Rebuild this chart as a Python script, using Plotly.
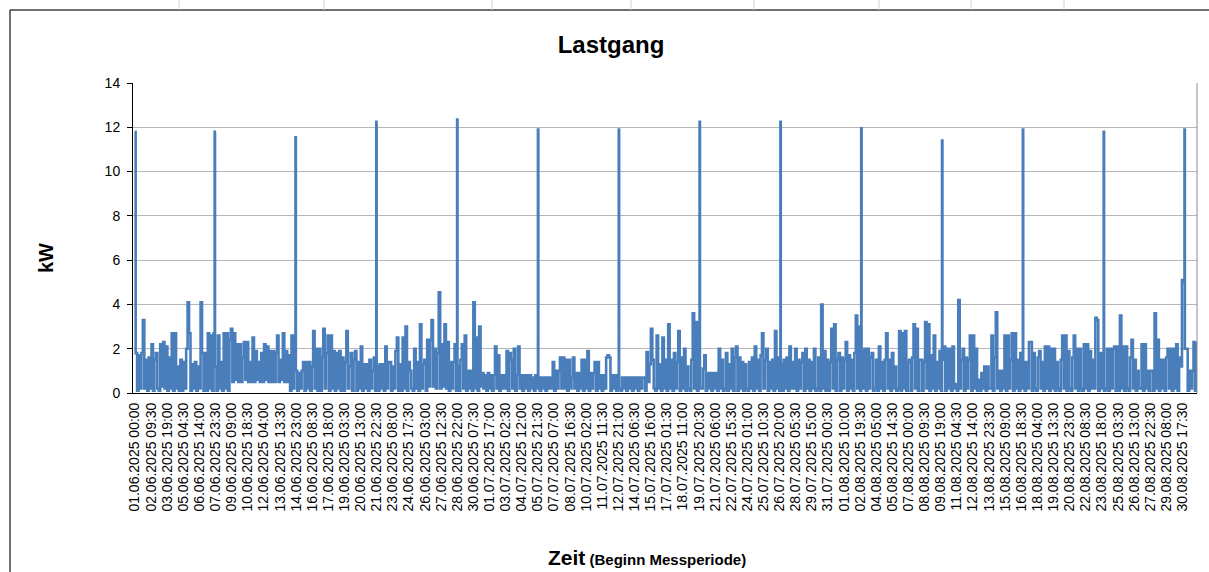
import pandas as pd
import plotly.graph_objects as go

# ---- data (kW), 3-hourly readings per day ----
june_kw = [
    [1.8, 0.1, 1.7, 0.2, 1.8, 3.3, 0.2, 1.5],
    [0.1, 1.6, 0.2, 2.2, 0.1, 1.5, 1.8, 0.2],
    [0.1, 2.2, 0.3, 2.3, 0.2, 2.1, 0.1, 1.6],
    [0.2, 2.7, 0.1, 2.7, 0.2, 1.2, 0.1, 1.5],
    [0.1, 1.4, 0.2, 2.0, 4.1, 2.7, 0.1, 1.3],
    [0.2, 1.4, 0.1, 1.2, 0.2, 4.1, 1.8, 0.1],
    [1.8, 0.1, 2.7, 0.2, 2.6, 0.1, 2.7, 1.2],
    [0.1, 2.6, 0.2, 1.4, 0.1, 2.7, 0.2, 2.7],
    [0.1, 2.4, 2.9, 0.5, 2.7, 0.6, 2.2, 0.5],
    [2.2, 0.5, 1.6, 2.3, 0.6, 2.3, 0.5, 1.4],
    [0.5, 2.5, 0.5, 1.9, 0.6, 1.4, 0.5, 1.8],
    [0.5, 2.2, 0.6, 2.1, 0.5, 1.9, 0.5, 1.9],
    [0.5, 1.8, 2.6, 0.5, 1.5, 0.6, 2.7, 0.5],
    [1.9, 0.5, 1.7, 0.1, 2.6, 0.2, 2.5, 1.0],
    [0.1, 0.9, 0.2, 1.0, 1.4, 0.1, 1.4, 0.2],
    [1.4, 0.1, 1.2, 2.8, 0.2, 2.0, 0.1, 2.0],
    [0.1, 1.6, 2.9, 0.2, 1.8, 2.6, 0.1, 2.6],
    [0.2, 1.9, 0.1, 1.8, 0.2, 1.9, 0.1, 1.6],
    [0.1, 1.4, 2.8, 0.2, 1.2, 1.8, 0.1, 1.5],
    [1.9, 0.1, 1.4, 0.2, 2.1, 0.1, 1.3, 0.2],
    [1.3, 0.1, 1.5, 0.2, 1.0, 1.6, 0.1, 1.2],
    [0.1, 1.3, 0.2, 1.3, 0.1, 2.1, 0.2, 1.4],
    [1.4, 0.1, 1.2, 0.2, 1.9, 2.5, 0.1, 1.3],
    [0.1, 2.5, 0.2, 3.0, 0.1, 1.4, 1.0, 0.2],
    [0.1, 2.0, 0.2, 1.4, 0.1, 3.1, 0.2, 1.3],
    [1.5, 0.1, 2.4, 0.3, 2.4, 3.3, 0.3, 2.0],
    [0.2, 1.8, 4.55, 0.2, 2.2, 0.3, 3.1, 0.2],
    [2.3, 0.1, 1.4, 0.2, 1.4, 2.2, 0.1, 1.2],
    [0.1, 1.5, 2.2, 0.2, 2.6, 0.1, 1.0, 0.2],
    [1.0, 0.1, 4.1, 0.2, 2.5, 0.1, 3.0, 0.3],
]
july_kw = [
    [0.9, 0.2, 0.8, 0.1, 0.9, 0.2, 0.8, 0.1],
    [0.8, 2.1, 0.2, 1.7, 0.1, 0.8, 0.2, 0.8],
    [0.2, 1.9, 0.1, 1.8, 1.5, 0.2, 2.0, 0.1],
    [0.8, 2.1, 0.2, 0.8, 0.1, 0.8, 0.2, 0.8],
    [0.1, 0.8, 0.2, 0.7, 0.1, 0.8, 0.2, 0.7],
    [0.1, 0.7, 0.2, 0.7, 0.1, 0.7, 0.2, 0.7],
    [0.2, 1.4, 0.1, 1.0, 0.2, 1.0, 1.6, 0.2],
    [1.6, 0.2, 1.5, 0.1, 1.5, 0.2, 0.7, 1.6],
    [0.2, 0.9, 0.1, 0.9, 0.2, 1.5, 0.1, 1.5],
    [0.2, 1.9, 0.1, 0.9, 0.2, 0.9, 1.4, 0.1],
    [1.4, 0.2, 0.8, 0.1, 0.8, 0.2, 1.6, 1.7],
    [1.6, 0.1, 0.8, 0.2, 0.8, 0.1, 0.8, 0.2],
    [0.1, 0.7, 0.2, 0.7, 0.1, 0.7, 0.2, 0.7],
    [0.1, 0.7, 0.2, 0.7, 0.1, 0.7, 0.2, 0.7],
    [0.7, 0.1, 1.85, 0.5, 1.3, 2.9, 1.5, 0.2],
    [0.1, 2.6, 0.2, 1.3, 0.1, 2.5, 0.2, 1.5],
    [0.1, 3.1, 0.2, 1.5, 0.1, 1.8, 0.2, 1.4],
    [2.8, 0.1, 1.6, 0.2, 2.0, 0.1, 1.2, 0.2],
    [0.1, 1.5, 3.6, 0.2, 3.2, 0.1, 1.3, 0.2],
    [0.2, 1.1, 1.7, 0.1, 0.9, 0.2, 0.9, 0.1],
    [0.9, 0.2, 0.9, 0.1, 2.0, 0.2, 1.5, 0.1],
    [0.2, 1.8, 0.1, 1.3, 0.2, 2.0, 0.1, 1.6],
    [2.1, 0.1, 1.6, 0.2, 1.4, 0.1, 1.3, 0.2],
    [0.1, 1.4, 0.2, 1.6, 0.1, 2.1, 0.2, 1.5],
    [0.1, 1.7, 2.7, 0.2, 1.5, 2.0, 0.1, 1.4],
    [0.2, 1.5, 0.1, 2.8, 0.2, 1.6, 0.1, 1.3],
    [0.1, 1.5, 0.2, 1.6, 0.1, 2.1, 0.2, 1.4],
    [0.2, 2.0, 0.1, 1.5, 0.2, 1.4, 1.8, 0.1],
    [2.0, 0.2, 1.5, 0.1, 1.4, 0.2, 2.0, 0.1],
    [0.2, 1.6, 0.1, 4.0, 0.2, 1.9, 0.1, 1.5],
    [0.1, 1.4, 2.9, 0.2, 3.1, 0.1, 1.5, 1.8],
]
august_kw = [
    [0.1, 1.6, 0.2, 1.5, 2.3, 0.1, 1.7, 0.2],
    [1.5, 0.1, 1.8, 3.5, 0.2, 3.0, 0.1, 1.9],
    [0.2, 2.0, 0.1, 2.0, 0.2, 1.6, 1.8, 0.1],
    [0.2, 1.5, 0.1, 2.1, 0.2, 1.4, 0.1, 1.5],
    [2.7, 0.2, 1.5, 0.1, 1.8, 0.2, 1.2, 0.1],
    [0.2, 2.8, 0.1, 2.7, 0.2, 2.8, 0.1, 1.4],
    [1.5, 0.1, 1.6, 3.1, 0.2, 2.9, 0.1, 1.5],
    [1.5, 0.1, 1.4, 3.2, 0.2, 3.1, 0.1, 1.7],
    [0.2, 2.6, 0.1, 1.4, 0.2, 1.9, 0.1, 1.5],
    [2.1, 0.1, 2.0, 0.2, 2.0, 0.1, 2.1, 0.2],
    [0.4, 0.1, 4.2, 0.2, 1.5, 2.0, 0.1, 1.6],
    [0.2, 1.5, 2.6, 0.1, 2.6, 0.2, 2.0, 0.1],
    [0.6, 0.1, 0.9, 0.2, 1.2, 0.1, 1.2, 0.2],
    [0.2, 2.6, 0.1, 1.6, 3.65, 0.2, 1.0, 0.1],
    [1.0, 0.2, 2.6, 0.1, 2.6, 0.2, 1.5, 2.7],
    [0.1, 2.7, 0.2, 1.5, 0.1, 1.8, 0.2, 1.4],
    [0.1, 1.4, 0.2, 2.3, 2.3, 0.1, 1.8, 0.2],
    [0.1, 1.6, 1.9, 0.2, 1.4, 0.1, 2.1, 0.2],
    [2.1, 0.1, 2.0, 0.2, 2.0, 0.1, 1.4, 0.2],
    [0.1, 1.5, 2.6, 0.2, 2.6, 0.1, 1.9, 0.2],
    [0.1, 1.6, 2.6, 0.2, 2.0, 0.1, 2.0, 0.2],
    [0.1, 2.2, 0.2, 2.2, 0.1, 1.9, 0.2, 1.5],
    [0.2, 3.4, 3.3, 0.1, 1.8, 0.2, 1.5, 0.1],
    [0.2, 2.0, 0.1, 2.0, 0.2, 2.0, 2.1, 0.1],
    [2.1, 0.1, 3.5, 0.2, 2.1, 0.1, 2.1, 0.2],
    [0.1, 1.6, 2.4, 0.2, 1.5, 0.1, 1.0, 0.2],
    [0.2, 2.2, 0.1, 2.2, 0.2, 1.0, 0.1, 1.0],
    [1.0, 0.1, 3.6, 0.2, 2.4, 0.1, 1.5, 0.2],
    [1.5, 0.1, 1.6, 2.0, 0.2, 2.0, 0.1, 2.0],
    [0.2, 2.2, 0.1, 1.6, 1.2, 5.1, 5.0, 2.0],
    [2.0, 0.1, 1.0, 0.2, 1.0, 2.3, 0.1, 2.3],
]
slot_times = ["01:30", "04:30", "07:30", "10:30", "13:30", "16:30", "19:30", "22:30"]

# weekly peaks (Saturday evening)
spike_times = ["01.06.2025 00:00", "07.06.2025 21:45", "07.06.2025 22:00",
               "14.06.2025 21:45", "21.06.2025 21:45", "21.06.2025 22:00",
               "28.06.2025 21:45", "05.07.2025 21:45", "12.07.2025 21:45",
               "19.07.2025 21:45", "26.07.2025 21:45", "02.08.2025 21:45",
               "09.08.2025 21:45", "16.08.2025 21:45", "23.08.2025 21:45",
               "30.08.2025 21:45"]
spike_kw = [11.8, 11.8, 11.7, 11.55, 12.25, 12.1, 12.35, 11.9, 11.9,
            12.25, 12.25, 11.95, 11.4, 11.9, 11.8, 11.9]

tick_labels = [
    "01.06.2025 00:00", "02.06.2025 09:30", "03.06.2025 19:00", "05.06.2025 04:30",
    "06.06.2025 14:00", "07.06.2025 23:30", "09.06.2025 09:00", "10.06.2025 18:30",
    "12.06.2025 04:00", "13.06.2025 13:30", "14.06.2025 23:00", "16.06.2025 08:30",
    "17.06.2025 18:00", "19.06.2025 03:30", "20.06.2025 13:00", "21.06.2025 22:30",
    "23.06.2025 08:00", "24.06.2025 17:30", "26.06.2025 03:00", "27.06.2025 12:30",
    "28.06.2025 22:00", "30.06.2025 07:30", "01.07.2025 17:00", "03.07.2025 02:30",
    "04.07.2025 12:00", "05.07.2025 21:30", "07.07.2025 07:00", "08.07.2025 16:30",
    "10.07.2025 02:00", "11.07.2025 11:30", "12.07.2025 21:00", "14.07.2025 06:30",
    "15.07.2025 16:00", "17.07.2025 01:30", "18.07.2025 11:00", "19.07.2025 20:30",
    "21.07.2025 06:00", "22.07.2025 15:30", "24.07.2025 01:00", "25.07.2025 10:30",
    "26.07.2025 20:00", "28.07.2025 05:30", "29.07.2025 15:00", "31.07.2025 00:30",
    "01.08.2025 10:00", "02.08.2025 19:30", "04.08.2025 05:00", "05.08.2025 14:30",
    "07.08.2025 00:00", "08.08.2025 09:30", "09.08.2025 19:00", "11.08.2025 04:30",
    "12.08.2025 14:00", "13.08.2025 23:30", "15.08.2025 09:00", "16.08.2025 18:30",
    "18.08.2025 04:00", "19.08.2025 13:30", "20.08.2025 23:00", "22.08.2025 08:30",
    "23.08.2025 18:00", "25.08.2025 03:30", "26.08.2025 13:00", "27.08.2025 22:30",
    "29.08.2025 08:00", "30.08.2025 17:30",
]

# ---- build the series ----
FMT = "%d.%m.%Y %H:%M"
days = pd.date_range("2025-06-01", "2025-08-31", freq="D")
daily = june_kw + july_kw + august_kw
rows = []
for day, vals in zip(days, daily):
    for t, v in zip(slot_times, vals):
        rows.append((day + pd.Timedelta(t + ":00"), v))
for t, v in zip(spike_times, spike_kw):
    rows.append((pd.to_datetime(t, format=FMT), v))
df = pd.DataFrame(rows, columns=["t", "kw"]).sort_values("t", kind="stable")

tickvals = pd.to_datetime(tick_labels, format=FMT)

FONT = "Liberation Sans, Arial, sans-serif"
fig = go.Figure()
fig.add_trace(go.Scatter(x=df["t"], y=df["kw"], mode="lines",
                         line=dict(color="#4A7EBB", width=2.6, shape="hv"),
                         hoverinfo="skip", showlegend=False))

# plot area px: x 133..1197, y 83..393
L, R, T, B = 133, 1197, 83, 393
W, H = 1209, 572
def px(x):
    return (x - L) / (R - L)
def py(y):
    return (B - y) / (B - T)

fig.update_layout(
    width=W, height=H,
    margin=dict(l=L, r=W - R, t=T, b=H - B, autoexpand=False),
    paper_bgcolor="white", plot_bgcolor="white",
    font=dict(family=FONT, color="black"),
    title=dict(text="<b>Lastgang</b>", x=611 / W, xanchor="center",
               y=1 - 45 / H, yanchor="middle",
               font=dict(size=24, family=FONT, color="black")),
    xaxis=dict(
        type="date",
        range=[pd.Timestamp("2025-05-31 20:00"), pd.Timestamp("2025-08-31 23:45")],
        tickmode="array", tickvals=tickvals, ticktext=tick_labels,
        tickangle=-90, tickfont=dict(size=14, family=FONT, color="black"),
        ticklabelstandoff=3,
        showgrid=False, showline=True, linecolor="black", linewidth=1,
        ticks="", zeroline=False, automargin=False,
    ),
    yaxis=dict(
        range=[0, 14], tick0=0, dtick=2,
        tickfont=dict(size=14, family=FONT, color="black"),
        ticklabelstandoff=4,
        showgrid=True, gridcolor="#b7b7b7", gridwidth=1,
        showline=True, linecolor="black", linewidth=1,
        ticks="outside", ticklen=5, tickcolor="black",
        zeroline=False, automargin=False,
    ),
)

shapes = []
# plot-area border (gray) on the right
shapes.append(dict(type="line", xref="paper", yref="paper", x0=1, x1=1, y0=0, y1=1,
                   line=dict(color="#8c8c8c", width=1)))
# chart frame (outer border)
shapes.append(dict(type="line", xref="paper", yref="paper", x0=px(10), x1=px(1215),
                   y0=py(10), y1=py(10), line=dict(color="#404040", width=1.5)))
shapes.append(dict(type="line", xref="paper", yref="paper", x0=px(10), x1=px(10),
                   y0=py(10), y1=py(580), line=dict(color="#404040", width=1.5)))
# spreadsheet column separators above the chart
for cx in [179, 324, 492, 631, 754, 879, 971, 1064]:
    shapes.append(dict(type="line", xref="paper", yref="paper", x0=px(cx), x1=px(cx),
                       y0=py(0), y1=py(10), line=dict(color="#d0d0d0", width=1)))
fig.update_layout(shapes=shapes)

fig.add_annotation(xref="paper", yref="paper", x=px(46), y=py(258),
                   xanchor="center", yanchor="middle",
                   text="<b>kW</b>", textangle=-90, showarrow=False,
                   font=dict(size=20, family=FONT, color="black"))
fig.add_annotation(xref="paper", yref="paper", x=px(647), y=py(557),
                   xanchor="center", yanchor="middle", showarrow=False,
                   text="<b><span style='font-size:21px'>Zeit</span> "
                        "<span style='font-size:15px'>(Beginn Messperiode)</span></b>",
                   font=dict(size=15, family=FONT, color="black"))

fig.write_html("out.html", config={"displayModeBar": False},
               post_script="document.body.style.margin='0';document.body.style.overflow='hidden';")
